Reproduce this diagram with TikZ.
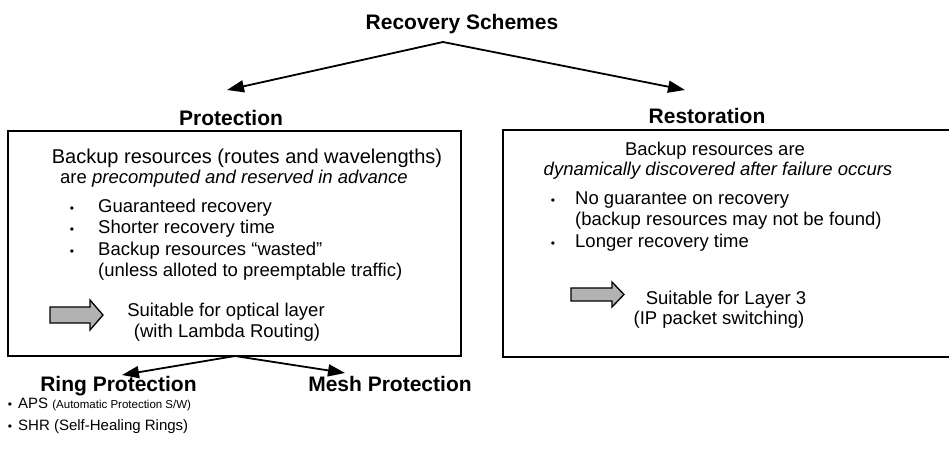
\documentclass[tikz,border=0pt]{standalone}
\usepackage{fontspec}
\setmainfont{Liberation Sans}
\usetikzlibrary{arrows.meta}
\begin{document}
\begin{tikzpicture}[x=1pt,y=-1pt,
  body/.style={font=\fontsize{18.5}{21}\selectfont, inner sep=0pt, anchor=base},
  bodyl/.style={body, anchor=base west},
  bul/.style={font=\fontsize{12}{15}\selectfont, inner sep=0pt, anchor=base},
  head/.style={font=\fontsize{21}{24}\selectfont\bfseries, inner sep=0pt, anchor=base},
  small/.style={font=\fontsize{15}{18}\selectfont, inner sep=0pt, anchor=base west},
  box/.style={draw, line width=1.1pt, inner sep=0pt},
  bigarrow/.style={line width=1.8pt, -{Triangle[length=17pt,width=12pt]}},
  fatarrow/.style={draw, line width=1.3pt, fill=gray!60, line join=miter}]
\useasboundingbox (0,0) rectangle (949,474);
\clip (0,0) rectangle (949,474);
% title and main arrows
\node[head] (title) at (462,29) {Recovery Schemes};
\coordinate (apex) at (443,42);
\coordinate (ptip) at (227,90);
\coordinate (rtip) at (685,90);
\draw[bigarrow] (apex) -- (ptip);
\draw[bigarrow] (apex) -- (rtip);
% protection
\node[head] (prot) at (231,125) {Protection};
\node[box, minimum width=453pt, minimum height=225pt] (pbox) at (234.5,243.5) {};
\node[body, font=\fontsize{20}{21}\selectfont] (p1) at (247,163) {Backup resources (routes and wavelengths)};
\node[body] (p2) at (234,183) {are \textit{precomputed and reserved in advance}};
\node[bul] (pb1) at (72,212) {•};
\node[bodyl] (pt1) at (98,212) {Guaranteed recovery};
\node[bul] (pb2) at (72,233) {•};
\node[bodyl] (pt2) at (98,233) {Shorter recovery time};
\node[bul] (pb3) at (72,255) {•};
\node[bodyl] (pt3) at (98,255) {Backup resources “wasted”};
\node[bodyl] (pt4) at (98,276) {(unless alloted to preemptable traffic)};
\draw[fatarrow] (50,307) -- (90,307) -- (90,300) -- (103,315) -- (90,330) -- (90,323) -- (50,323) -- cycle;
\node[body] (ps1) at (226,316) {Suitable for optical layer};
\node[body] (ps2) at (227,337) {(with Lambda Routing)};
% restoration
\node[head] (rest) at (707,123) {Restoration};
\node[box, minimum width=457pt, minimum height=227pt] (rbox) at (731.5,243.5) {};
\node[body] (r1) at (715,155) {Backup resources are};
\node[body] (r2) at (718,175) {\textit{dynamically discovered after failure occurs}};
\node[bul] (rb1) at (553,204) {•};
\node[bodyl] (rt1) at (575,204) {No guarantee on recovery};
\node[bodyl] (rt2) at (575,225) {(backup resources may not be found)};
\node[bul] (rb2) at (553,247) {•};
\node[bodyl] (rt3) at (575,247) {Longer recovery time};
\draw[fatarrow] (571,288) -- (612,288) -- (612,282) -- (624,294.5) -- (612,307) -- (612,301) -- (571,301) -- cycle;
\node[body] (rs1) at (726,304) {Suitable for Layer 3};
\node[body] (rs2) at (719,324) {(IP packet switching)};
% protection subtypes
\coordinate (papex) at (235,356);
\coordinate (ltip) at (122,375);
\coordinate (mtip) at (345,373);
\draw[bigarrow] (papex) -- (ltip);
\draw[bigarrow] (papex) -- (mtip);
\node[head] (ring) at (118.5,391) {Ring Protection};
\node[head] (mesh) at (390,391) {Mesh Protection};
\node[bul] (gb1) at (10,408) {•};
\node[small] (g1) at (18,408) {APS {\fontsize{11.5}{14}\selectfont(Automatic Protection S/W)}};
\node[bul] (gb2) at (10,430) {•};
\node[small] (g2) at (18,430) {SHR (Self-Healing Rings)};
\end{tikzpicture}
\end{document}
